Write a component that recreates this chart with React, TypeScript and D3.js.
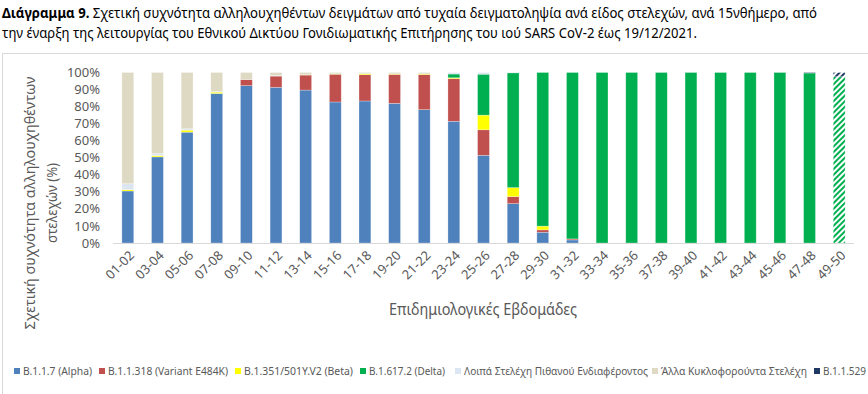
import React from "react";
import * as d3 from "d3";

const categories = ["01-02","03-04","05-06","07-08","09-10","11-12","13-14","15-16","17-18","19-20","21-22","23-24","25-26","27-28","29-30","31-32","33-34","35-36","37-38","39-40","41-42","43-44","45-46","47-48","49-50"];

const alpha =   [30.5,50.5,65,87.7,92.3,91.3,89.7,82.7,83.3,81.9,78.2,71.4,51.4,23.1,6.3,1.8,0,0,0,0,0,0,0,0,0];
const e484k =   [0,0,0,0,3.5,6.6,8.8,16.3,15.4,17,20.6,25,15,4.1,1.4,0.6,0,0,0,0,0,0,0,0,0];
const beta =    [0.8,0.8,1.2,0.8,0,0,0.2,0.2,0.6,0.3,0.4,0.5,8.6,5.3,2.2,0,0,0,0,0,0,0,0,0,0];
const delta =   [0,0,0,0,0,0,0,0.2,0,0,0,2.2,24,67.3,90.1,97.6,100,100,100,100,100,100,100,99.7,97.5];
const voi =     [3.5,1.2,0.8,0.3,0,0.3,0,0,0,0,0,0.9,1,0.2,0,0,0,0,0,0,0,0,0,0,0];
const others =  [65.2,47.5,33,11.2,4.2,1.8,1.3,0.6,0.7,0.8,0.8,0,0,0,0,0,0,0,0,0,0,0,0,0,0];
const omicron = [0,0,0,0,0,0,0,0,0,0,0,0,0,0,0,0,0,0,0,0,0,0,0,0.3,2.5];

const seriesNames = ["B.1.1.7 (Alpha)","B.1.1.318 (Variant E484K)","B.1.351/501Y.V2 (Beta)","B.1.617.2 (Delta)","Λοιπά Στελέχη Πιθανού Ενδιαφέροντος","Άλλα Κυκλοφορούντα Στελέχη","B.1.1.529"];
const seriesKeys = ["alpha","e484k","beta","delta","voi","others","omicron"];
const seriesColors = ["#4f81bd","#c0504d","#ffff00","#00b050","#dce6f2","#ddd9c3","#1f3864"];
const hatchedCategories = ["49-50"];

const yTicks = [0,10,20,30,40,50,60,70,80,90,100];

const titleBold = "Διάγραμμα 9.";
const titleLine1 = " Σχετική συχνότητα αλληλουχηθέντων δειγμάτων από τυχαία δειγματοληψία ανά είδος στελεχών, ανά 15νθήμερο, από";
const titleLine2 = "την έναρξη της λειτουργίας του Εθνικού Δικτύου Γονιδιωματικής Επιτήρησης του ιού SARS CoV-2 έως 19/12/2021.";
const yTitle1 = "Σχετική συχνότητα αλληλουχηθέντων";
const yTitle2 = "στελεχών (%)";
const xTitle = "Επιδημιολογικές Εβδομάδες";

const FONT = "'Noto Sans', 'Open Sans', sans-serif";
const GRAY = "#595959";

export default function App() {
  const W = 868, H = 394;
  const rows = categories.map((c, i) => ({
    cat: c, alpha: alpha[i], e484k: e484k[i], beta: beta[i], delta: delta[i],
    voi: voi[i], others: others[i], omicron: omicron[i],
  }));
  const stacked = d3.stack<any>().keys(seriesKeys)(rows);

  const x = d3.scaleBand<string>().domain(categories).range([113, 854]).paddingInner(0.6).paddingOuter(0.3);
  const y = d3.scaleLinear().domain([0, 100]).range([243, 72.5]);

  const legendX = [14, 99, 235, 360, 455, 652, 814];
  const legendW = [69, 120, 109, 76, 184, 146, 43];
  const legendFs = [11, 11, 11, 11, 11, 11, 10];

  return (
    <svg width={W} height={H} style={{ position: "absolute", left: 0, top: 0, background: "#fff" }} fontFamily={FONT}>
      <defs>
        {seriesKeys.map((k, i) => (
          <pattern key={k} id={`hatch-${k}`} patternUnits="userSpaceOnUse" width={4} height={4} patternTransform="rotate(45)">
            <rect width={4} height={4} fill="#fff" />
            <rect width={2} height={4} fill={seriesColors[i]} />
          </pattern>
        ))}
      </defs>
      <rect x={0} y={0} width={W} height={H} fill="#fff" />
      {/* title */}
      <text x={2} y={18} fontSize={13.8} fill="#000" textLength={815} lengthAdjust="spacingAndGlyphs">
        <tspan fontWeight="bold">{titleBold}</tspan>
        <tspan>{titleLine1}</tspan>
      </text>
      <text x={2} y={38} fontSize={13.8} fill="#000" textLength={695} lengthAdjust="spacingAndGlyphs">{titleLine2}</text>
      {/* chart border */}
      <rect x={2.5} y={53.5} width={900} height={400} fill="none" stroke="#d9d9d9" strokeWidth={1} />

      {/* y axis title */}
      <text transform="translate(35,203) rotate(-90)" textAnchor="middle" fontSize={15} fill={GRAY} textLength={253} lengthAdjust="spacingAndGlyphs">{yTitle1}</text>
      <text transform="translate(57,203) rotate(-90)" textAnchor="middle" fontSize={15} fill={GRAY} textLength={80} lengthAdjust="spacingAndGlyphs">{yTitle2}</text>

      {/* y ticks */}
      {yTicks.map(t => (
        <text key={t} x={100} y={y(t)} dy="0.35em" textAnchor="end" fontSize={13} fill={GRAY}>{t}%</text>
      ))}

      {/* bars */}
      {stacked.map((s, si) => (
        <g key={s.key}>
          {s.map((d: any, i: number) => {
            const h = y(d[0]) - y(d[1]);
            if (h <= 0) return null;
            const cat = categories[i];
            const hatched = hatchedCategories.includes(cat);
            return (
              <rect key={cat} x={x(cat)} y={y(d[1])} width={x.bandwidth()} height={h}
                fill={hatched ? `url(#hatch-${s.key})` : seriesColors[si]}
                stroke="#fff" strokeOpacity={0.45} strokeWidth={0.6} />
            );
          })}
        </g>
      ))}

      {/* x axis line */}
      <line x1={113} x2={854} y1={243.5} y2={243.5} stroke="#d9d9d9" strokeWidth={1} />

      {/* x tick labels */}
      {categories.map(c => (
        <text key={c} transform={`translate(${(x(c) as number) + x.bandwidth() / 2 + 4},${253}) rotate(-45)`} textAnchor="end" dy="0.35em" fontSize={13} fill={GRAY}>{c}</text>
      ))}

      {/* x axis title */}
      <text x={483} y={310} dy="0.35em" textAnchor="middle" fontSize={15.5} fill={GRAY} textLength={188} lengthAdjust="spacingAndGlyphs">{xTitle}</text>

      {/* legend */}
      {seriesNames.map((n, i) => (
        <g key={n}>
          <rect x={legendX[i]} y={368} width={6} height={6} fill={seriesColors[i]} />
          <text x={legendX[i] + 9} y={371} dy="0.35em" fontSize={legendFs[i]} fill={GRAY} textLength={legendW[i]} lengthAdjust="spacingAndGlyphs">{n}</text>
        </g>
      ))}
    </svg>
  );
}
